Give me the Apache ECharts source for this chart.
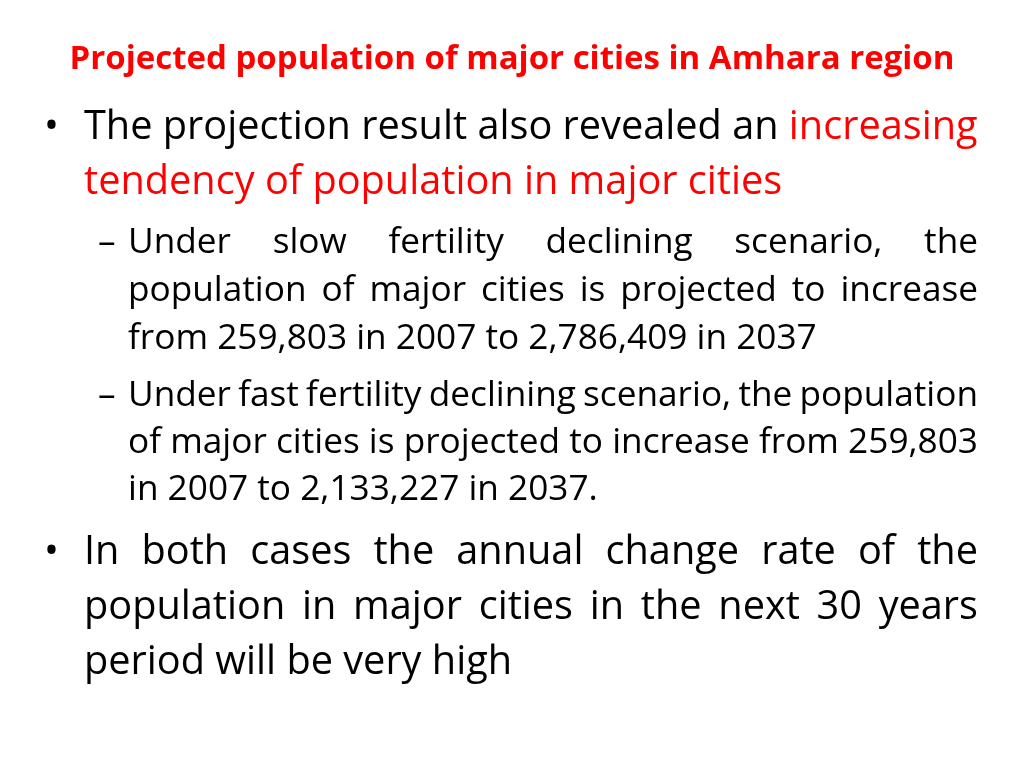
<!DOCTYPE html>
<html>
<head>
<meta charset="utf-8">
<script src="https://cdn.jsdelivr.net/npm/echarts@6/dist/echarts.min.js"></script>
<style>html,body{margin:0;padding:0;background:#fff}#slide{width:1024px;height:768px}</style>
</head>
<body>
<div id="slide"></div>
<script>
// slide text, one entry per printed line: [text, colour] segments
const titleText = 'Projected population of major cities in Amhara region';
const bullet1 = [
  [['The projection result also revealed an ', '#000'], ['increasing', '#ff0000']],
  [['tendency of population in major cities', '#ff0000']]
];
const sub1 = [
  'Under slow fertility declining scenario, the',
  'population of major cities is projected to increase',
  'from 259,803 in 2007 to 2,786,409 in 2037'
];
const sub2 = [
  'Under fast fertility declining scenario, the population',
  'of major cities is projected to increase from 259,803',
  'in 2007 to 2,133,227 in 2037.'
];
const bullet2 = [
  'In both cases the annual change rate of the',
  'population in major cities in the next 30 years',
  'period will be very high'
];

const FONT = '"Open Sans", Lato, sans-serif';
const RIGHT = 978;
let chart = echarts.init(document.getElementById('slide'));
let ctx = document.createElement('canvas').getContext('2d');
let els = [];

// font size that makes a reference line as wide as on the slide
let fitSize = function (text, width, weight) {
  ctx.font = (weight || 'normal') + ' 100px ' + FONT;
  return 100 * width / ctx.measureText(text).width;
};
const titleSize = fitSize(titleText, 885, 'bold');
const mainSize = fitSize('The projection result also revealed an increasing', 894);
const subSize = fitSize(sub1[2], 689);

let addText = function (text, x, y, size, color, weight) {
  els.push({type: 'text', x: x, y: y, style: {
    text: text, fill: color, font: (weight || 'normal') + ' ' + size + 'px ' + FONT,
    textVerticalAlign: 'middle'
  }});
};

// lays out one line; justified lines spread the words to the right edge
let addLine = function (segs, x, y, size, justify) {
  ctx.font = size + 'px ' + FONT;
  let words = [];
  segs.forEach(function (s) {
    s[0].split(' ').filter(function (w) { return w; }).forEach(function (w) {
      words.push({w: w, c: s[1], width: ctx.measureText(w).width});
    });
  });
  let space = ctx.measureText(' ').width;
  if (justify && words.length > 1) {
    let total = words.reduce(function (a, b) { return a + b.width; }, 0);
    space = (RIGHT - x - total) / (words.length - 1);
  }
  let cx = x;
  words.forEach(function (w) {
    addText(w.w, cx, y, size, w.c);
    cx += w.width + space;
  });
};

els.push({type: 'text', x: 512, y: 60, style: {
  text: titleText, fill: '#ff0000', font: 'bold ' + titleSize + 'px ' + FONT,
  textAlign: 'center', textVerticalAlign: 'middle'
}});

addText('•', 44, 128, mainSize, '#000');
bullet1.forEach(function (l, i) { addLine(l, 84, 128 + i * 55, mainSize, false); });

addText('–', 98, 243, subSize, '#000');
sub1.forEach(function (l, i) { addLine([[l, '#000']], 128, 243 + i * 48, subSize, i < sub1.length - 1); });

addText('–', 98, 396, subSize, '#000');
sub2.forEach(function (l, i) { addLine([[l, '#000']], 128, 396 + i * 47, subSize, i < sub2.length - 1); });

addText('•', 44, 553, mainSize, '#000');
bullet2.forEach(function (l, i) { addLine([[l, '#000']], 84, 553 + i * 55, mainSize, i < bullet2.length - 1); });

chart.setOption({backgroundColor: '#fff', graphic: {elements: els}});
</script>
</body>
</html>
